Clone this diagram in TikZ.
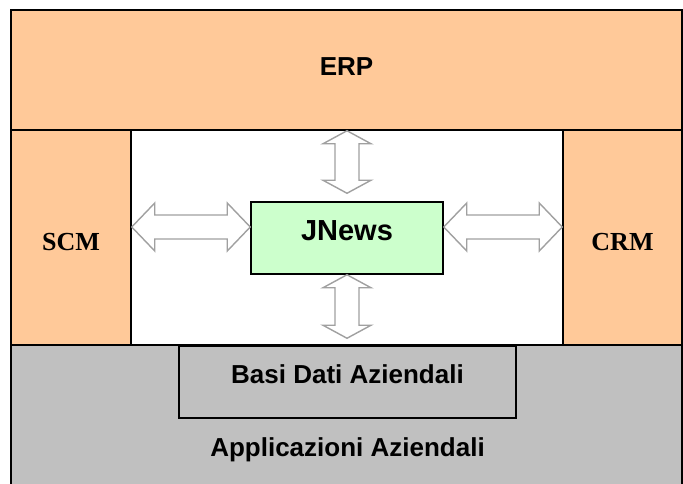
\documentclass[tikz,border=0pt]{standalone}
\usepackage{fontspec}
\setmainfont{Liberation Serif}
\setsansfont{Liberation Sans}
\usetikzlibrary{positioning, calc}

\definecolor{peach}{HTML}{FFC999}
\definecolor{silver}{HTML}{C0C0C0}
\definecolor{mint}{HTML}{CCFFCC}
\definecolor{arrowgray}{HTML}{A0A0A0}

\begin{document}
\begin{tikzpicture}[x=1pt, y=-1pt,
    box/.style = {draw, line width=1.5pt, inner sep=0pt},
    lbl/.style = {inner sep=0pt, anchor=base, font=\sffamily\bfseries\fontsize{26}{30}\selectfont},
    serif/.style = {inner sep=0pt, anchor=base, font=\rmfamily\bfseries\fontsize{26}{30}\selectfont},
    harrow/.style = {draw=arrowgray, fill=white, line width=1.4pt, to path={
        -- ++(23,-24) -- ++(0,12) -- ($(\tikztotarget)+(-23,-12)$) -- ++(0,-12)
        -- (\tikztotarget) -- ++(-23,24) -- ++(0,-12) -- ($(\tikztostart)+(23,12)$)
        -- ++(0,12) -- cycle}},
    varrow/.style = {draw=arrowgray, fill=white, line width=1.4pt, to path={
        -- ++(-24,13) -- ++(12,0) -- ($(\tikztotarget)+(-12,-13)$) -- ++(-12,0)
        -- (\tikztotarget) -- ++(24,-13) -- ++(-12,0) -- ($(\tikztostart)+(12,13)$)
        -- ++(12,0) -- cycle}}]
    \useasboundingbox (0,0) rectangle (683,484);
    \clip (0,0) rectangle (683,484);

    % layers
    \node[box, fill=silver, minimum width=671, minimum height=150] (apps) at (346.5,420) {};
    \node[box, fill=peach, minimum width=671, minimum height=120] (erp)  at (346.5,70)  {};
    \node[box, fill=peach, minimum width=120, minimum height=215] (scm)  at (71,237.5)  {};
    \node[box, fill=peach, minimum width=119, minimum height=215] (crm)  at (622.5,237.5) {};
    \node[box, fill=silver, minimum width=337, minimum height=72] (basi) at (347.5,382) {};
    \node[box, fill=mint, minimum width=192, minimum height=72]   (jnews) at (347,238)  {};

    % labels
    \node[lbl] (erp-t)   at ([yshift=-6pt]erp.center)   {ERP};
    \node[serif] (scm-t) at ([yshift=-12.5pt]scm.center) {SCM};
    \node[serif] (crm-t) at ([yshift=-12.5pt]crm.center) {CRM};
    \node[lbl, font=\sffamily\bfseries\fontsize{29}{33}\selectfont] (jnews-t) at ([yshift=-2.7pt]jnews.center) {JNews};
    \node[lbl] (basi-t)  at ([yshift=-1pt]basi.center)   {Basi Dati Aziendali};
    \node[lbl] (apps-t)  at ([yshift=-38pt]basi.south)   {Applicazioni Aziendali};

    % links
    \draw[harrow] ([yshift=10.5pt]scm.east) to ([yshift=11pt]jnews.west);
    \draw[harrow] ([yshift=11pt]jnews.east) to ([yshift=10.5pt]crm.west);
    \draw[varrow] (jnews.north |- erp.south) to ([yshift=8pt]jnews.north);
    \draw[varrow] (jnews.south) to ([yshift=6pt]jnews.south |- apps.north);
\end{tikzpicture}
\end{document}
